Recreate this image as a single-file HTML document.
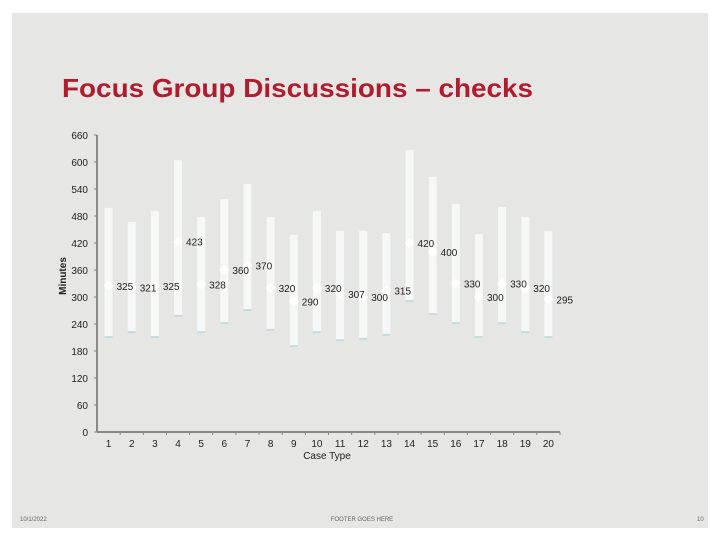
<!DOCTYPE html>
<html><head><meta charset="utf-8"><style>
body{margin:0;width:720px;height:540px;background:#fff;overflow:hidden;font-family:"Liberation Sans",sans-serif}
#slide{position:absolute;left:12px;top:13px;width:696px;height:515px;background:#e6e6e4}
</style></head><body>
<div id="slide"></div>
<svg width="720" height="540" style="position:absolute;left:0;top:0">
<text x="62" y="97" font-size="26" font-weight="bold" fill="#b01c2e" textLength="471" lengthAdjust="spacingAndGlyphs">Focus Group Discussions – checks</text>
<g id="g"></g>
<g id="lbl"></g>
<text x="327" y="459" font-size="10" text-anchor="middle" fill="#222">Case Type</text>
<text x="66" y="276" font-size="10" font-weight="bold" text-anchor="middle" fill="#222" transform="rotate(-90 66 276)">Minutes</text>
<text x="20" y="521" font-size="6" fill="#666">10/1/2022</text>
<text x="362" y="521" font-size="6" fill="#666" text-anchor="middle">FOOTER GOES HERE</text>
<text x="697" y="521" font-size="6" fill="#666">10</text>
</svg>
<script>
const categories=["1","2","3","4","5","6","7","8","9","10","11","12","13","14","15","16","17","18","19","20"];
const highs=[498,467,491,604,478,518,551,478,438,491,447,447,442,627,567,507,440,500,478,447];
const lows=[211,222,211,258,222,242,271,227,191,222,204,207,216,291,262,242,211,242,222,211];
const means=[325,321,325,423,328,360,370,320,290,320,307,300,315,420,400,330,300,330,320,295];
const yTicks=[0,60,120,180,240,300,360,420,480,540,600,660];
const NS="http://www.w3.org/2000/svg",g=document.getElementById('g'),L=document.getElementById('lbl');
const x0=97,x1=560,y0=432,yTop=135,yMax=660;
const bw=(x1-x0)/categories.length;
const y=v=>y0-(v/yMax)*(y0-yTop);
const xc=i=>x0+bw*(i+0.5);
function mk(t,a,p){const e=document.createElementNS(NS,t);for(const k in a)e.setAttribute(k,a[k]);(p||g).appendChild(e);return e;}
let e;
e=mk('line',{x1:x0,y1:yTop,x2:x0,y2:y0,stroke:'#888','stroke-width':2});


e=mk('line',{x1:x0,y1:y0,x2:x1,y2:y0,stroke:'#888','stroke-width':2});


yTicks.forEach(v=>{
 e=mk('line',{x1:x0-3,y1:y(v),x2:x0,y2:y(v),stroke:'#888'});
 
 
 e=mk('text',{x:x0-9,y:y(v)+4,'font-size':10,'text-anchor':'end',fill:'#222'});e.textContent=v;
 
 
});
categories.forEach((c,i)=>{
 e=mk('line',{x1:x0+bw*(i+1),y1:y0,x2:x0+bw*(i+1),y2:y0+3,stroke:'#888'});
 
 
 e=mk('text',{x:xc(i),y:y0+15,'font-size':10,'text-anchor':'middle',fill:'#222'});e.textContent=c;
 
 
 e=mk('rect',{x:xc(i)-4,y:y(highs[i]),width:8,height:y(lows[i])-y(highs[i]),fill:'#f6f7f7'});
 
 
 e=mk('rect',{x:xc(i)-4,y:y(lows[i])-1,width:8,height:2,fill:'#c5dde0'});
 
 
 const my=y(means[i]),mx=xc(i);
 e=mk('polygon',{points:`${mx},${my-5} ${mx+5},${my} ${mx},${my+5} ${mx-5},${my}`,fill:'#fff'});
 
 
 e=mk('text',{x:mx+8,y:my+4,'font-size':10,fill:'#222'},L);e.textContent=means[i];
 
 
});
</script>
</body></html>
